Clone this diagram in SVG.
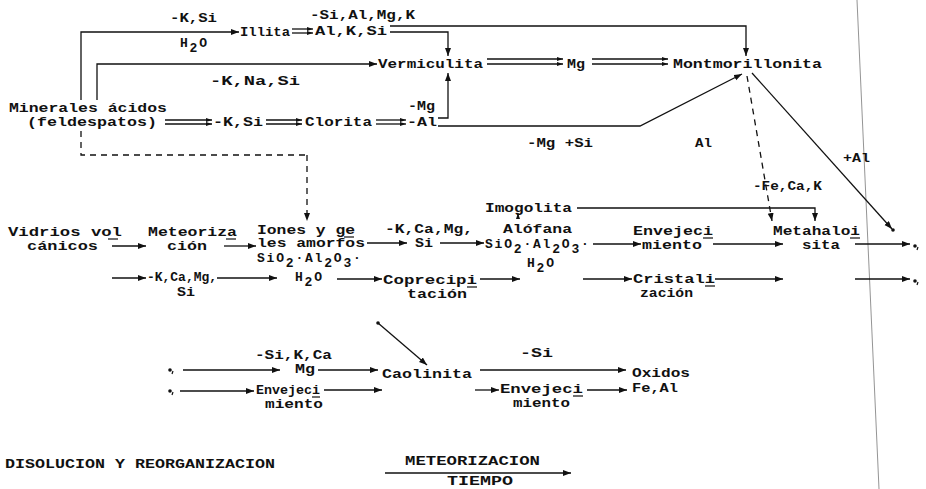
<svg xmlns="http://www.w3.org/2000/svg" width="926" height="489" viewBox="0 0 926 489">
<defs>
<marker id="a" markerUnits="userSpaceOnUse" markerWidth="9" markerHeight="7" refX="8" refY="3" orient="auto"><path d="M0,0 L8,3 L0,6 z" fill="#111"/></marker>
<marker id="s" markerUnits="userSpaceOnUse" markerWidth="7" markerHeight="5" refX="6" refY="2" orient="auto"><path d="M0,0 L6,2 L0,4 z" fill="#111"/></marker>
<style>
text{font-family:"Liberation Mono","DejaVu Sans Mono",monospace;font-size:13px;font-weight:bold;fill:#111}
.t{letter-spacing:1.8px}
.c line,.c path,.c polyline{stroke:#111;stroke-width:1.3;fill:none}
.c .ar{marker-end:url(#a)}
.c .d2{marker-end:url(#s)}
.c .ds{stroke-dasharray:6 5}
.u{stroke:#111;stroke-width:1.2}
.dot{fill:#111}
</style>
</defs>
<rect width="926" height="489" fill="#fff"/>
<line x1="857" y1="0" x2="879" y2="489" stroke="#888" stroke-width="0.9"/>

<g class="c" id="connectors">
<polyline class="ar" points="81,100 81,32 239,32"/>
<polyline class="ar" points="97,100 97,64 377,64"/>
<line class="d2" x1="292" y1="29" x2="313" y2="29"/>
<line class="d2" x1="292" y1="33" x2="313" y2="33"/>
<polyline class="ar" points="390,26 746,26 746,56"/>
<polyline class="ar" points="390,32 448,32 448,56"/>
<line class="d2" x1="487" y1="59" x2="563" y2="59"/>
<line class="d2" x1="487" y1="64" x2="563" y2="64"/>
<line class="d2" x1="592" y1="59" x2="668" y2="59"/>
<line class="d2" x1="592" y1="64" x2="668" y2="64"/>
<line class="d2" x1="165" y1="120" x2="212" y2="120"/>
<line class="d2" x1="165" y1="124" x2="212" y2="124"/>
<line class="d2" x1="266" y1="120" x2="302" y2="120"/>
<line class="d2" x1="266" y1="124" x2="302" y2="124"/>
<line class="d2" x1="376" y1="120" x2="406" y2="120"/>
<line class="d2" x1="376" y1="124" x2="406" y2="124"/>
<polyline class="ar" points="438,118 448,118 448,73"/>
<polyline class="ar" points="438,126 640,126 742,74"/>
<polyline class="ds" points="81,131 81,155 307,155"/>
<line class="ds ar" x1="307" y1="155" x2="307" y2="221"/>
<line class="ds ar" x1="747" y1="76" x2="772" y2="221"/>
<line class="ar" x1="752" y1="73" x2="892" y2="229"/>
<line class="ar" x1="112" y1="246" x2="146" y2="246"/>
<line class="ar" x1="224" y1="246" x2="256" y2="246"/>
<line class="ar" x1="112" y1="278" x2="146" y2="278"/>
<line class="ar" x1="217" y1="278" x2="277" y2="278"/>
<line class="ar" x1="367" y1="243" x2="407" y2="243"/>
<line class="ar" x1="440" y1="243" x2="484" y2="243"/>
<line class="d2" x1="518" y1="219" x2="518" y2="213"/>
<polyline class="ar" points="577,208 815,208 815,221"/>
<line class="ar" x1="593" y1="244" x2="641" y2="244"/>
<line class="ar" x1="713" y1="244" x2="783" y2="244"/>
<line class="ar" x1="855" y1="244" x2="910" y2="244"/>
<line class="ar" x1="337" y1="279" x2="382" y2="279"/>
<line class="ar" x1="480" y1="279" x2="520" y2="279"/>
<line class="ar" x1="583" y1="279" x2="632" y2="279"/>
<line class="ar" x1="715" y1="279" x2="783" y2="279"/>
<line class="ar" x1="855" y1="279" x2="910" y2="279"/>
<line class="ar" x1="378" y1="323" x2="427" y2="365"/>
<line class="ar" x1="183" y1="370" x2="280" y2="370"/>
<line class="ar" x1="318" y1="370" x2="378" y2="370"/>
<line class="ar" x1="480" y1="370" x2="626" y2="370"/>
<line class="ar" x1="180" y1="391" x2="254" y2="391"/>
<line class="ar" x1="324" y1="390" x2="382" y2="390"/>
<line class="ar" x1="475" y1="390" x2="499" y2="390"/>
<line class="ar" x1="587" y1="390" x2="627" y2="390"/>
<line class="ar" x1="385" y1="473" x2="571" y2="473"/>
</g>

<g id="markers">
<circle class="dot" cx="170" cy="370" r="1.8"/><path d="M173,371 l-1,3" class="u"/>
<circle class="dot" cx="170" cy="391" r="1.8"/><path d="M173,392 l-1,3" class="u"/>
<circle class="dot" cx="378" cy="323" r="1.8"/>
<circle class="dot" cx="893" cy="230" r="1.8"/>
<circle class="dot" cx="915" cy="246" r="1.8"/><path d="M918,247 l-1,3" class="u"/>
<circle class="dot" cx="915" cy="281" r="1.8"/><path d="M918,282 l-1,3" class="u"/>
</g>

<g id="labels">
<text x="170" y="22" textLength="47" lengthAdjust="spacingAndGlyphs">-K,Si</text>
<text x="310" y="19" textLength="105" lengthAdjust="spacingAndGlyphs">-Si,Al,Mg,K</text>
<text class="t" x="180" y="47">H<tspan dy="5">2</tspan><tspan dy="-5">O</tspan></text>
<text x="210" y="85" textLength="90" lengthAdjust="spacingAndGlyphs">-K,Na,Si</text>
<text x="213" y="126" textLength="50" lengthAdjust="spacingAndGlyphs">-K,Si</text>
<text x="408" y="110" textLength="27" lengthAdjust="spacingAndGlyphs">-Mg</text>
<text x="407" y="126" textLength="30" lengthAdjust="spacingAndGlyphs">-Al</text>
<text x="527" y="147" textLength="66" lengthAdjust="spacingAndGlyphs">-Mg +Si</text>
<text x="695" y="147" textLength="17" lengthAdjust="spacingAndGlyphs">Al</text>
<text x="843" y="162" textLength="27" lengthAdjust="spacingAndGlyphs">+Al</text>
<text x="753" y="190" textLength="69" lengthAdjust="spacingAndGlyphs">-Fe,Ca,K</text>
<text x="385" y="233" textLength="88" lengthAdjust="spacingAndGlyphs">-K,Ca,Mg,</text>
<text x="415" y="247" textLength="18" lengthAdjust="spacingAndGlyphs">Si</text>
<text x="147" y="281" textLength="70" lengthAdjust="spacingAndGlyphs">-K,Ca,Mg,</text>
<text x="177" y="296" textLength="18" lengthAdjust="spacingAndGlyphs">Si</text>
<text class="t" x="295" y="281">H<tspan dy="5">2</tspan><tspan dy="-5">O</tspan></text>
<text class="t" x="527" y="267">H<tspan dy="5">2</tspan><tspan dy="-5">O</tspan></text>
<text x="255" y="359" textLength="77" lengthAdjust="spacingAndGlyphs">-Si,K,Ca</text>
<text x="295" y="373" textLength="20" lengthAdjust="spacingAndGlyphs">Mg</text>
<text x="520" y="357" textLength="33" lengthAdjust="spacingAndGlyphs">-Si</text>
</g>

<g id="minerales"><text x="9" y="112" textLength="158" lengthAdjust="spacingAndGlyphs">Minerales ácidos</text><text x="27" y="126" textLength="130" lengthAdjust="spacingAndGlyphs">(feldespatos)</text></g>
<g id="illita"><text x="240" y="36" textLength="50" lengthAdjust="spacingAndGlyphs">Illita</text></g>
<g id="alksi"><text x="315" y="35" textLength="72" lengthAdjust="spacingAndGlyphs">Al,K,Si</text></g>
<g id="vermiculita"><text x="378" y="68" textLength="105" lengthAdjust="spacingAndGlyphs">Vermiculita</text></g>
<g id="mg"><text x="567" y="68" textLength="18" lengthAdjust="spacingAndGlyphs">Mg</text></g>
<g id="montmorillonita"><text x="673" y="68" textLength="149" lengthAdjust="spacingAndGlyphs">Montmorillonita</text></g>
<g id="clorita"><text x="305" y="126" textLength="67" lengthAdjust="spacingAndGlyphs">Clorita</text></g>
<g id="vidrios"><text x="8" y="236" textLength="114" lengthAdjust="spacingAndGlyphs">Vidrios vol</text><text x="27" y="250" textLength="71" lengthAdjust="spacingAndGlyphs">cánicos</text><line class="u" x1="108" y1="239" x2="118" y2="239"/></g>
<g id="meteorizacion"><text x="148" y="236" textLength="89" lengthAdjust="spacingAndGlyphs">Meteoriza</text><text x="167" y="250" textLength="40" lengthAdjust="spacingAndGlyphs">ción</text><line class="u" x1="226" y1="239" x2="236" y2="239"/></g>
<g id="iones"><text x="257" y="234" textLength="98" lengthAdjust="spacingAndGlyphs">Iones y ge</text><text x="257" y="247" textLength="108" lengthAdjust="spacingAndGlyphs">les amorfos</text><text class="t" x="257" y="262">SiO<tspan dy="5">2</tspan><tspan dy="-5">·Al</tspan><tspan dy="5">2</tspan><tspan dy="-5">O</tspan><tspan dy="5">3</tspan><tspan dy="-5">·</tspan></text><line class="u" x1="344" y1="237" x2="354" y2="237"/></g>
<g id="imogolita"><text x="485" y="212" textLength="87" lengthAdjust="spacingAndGlyphs">Imogolita</text></g>
<g id="alofana"><text x="503" y="233" textLength="69" lengthAdjust="spacingAndGlyphs">Alófana</text><text class="t" x="485" y="248">SiO<tspan dy="5">2</tspan><tspan dy="-5">·Al</tspan><tspan dy="5">2</tspan><tspan dy="-5">O</tspan><tspan dy="5">3</tspan><tspan dy="-5">·</tspan></text></g>
<g id="envejecimiento1"><text x="633" y="235" textLength="80" lengthAdjust="spacingAndGlyphs">Envejeci</text><text x="642" y="249" textLength="60" lengthAdjust="spacingAndGlyphs">miento</text><line class="u" x1="703" y1="238" x2="713" y2="238"/></g>
<g id="metahaloisita"><text x="773" y="235" textLength="87" lengthAdjust="spacingAndGlyphs">Metahaloi</text><text x="802" y="249" textLength="38" lengthAdjust="spacingAndGlyphs">sita</text><line class="u" x1="850" y1="238" x2="860" y2="238"/></g>
<g id="coprecipitacion"><text x="383" y="284" textLength="94" lengthAdjust="spacingAndGlyphs">Coprecipi</text><text x="407" y="298" textLength="60" lengthAdjust="spacingAndGlyphs">tación</text><line class="u" x1="467" y1="287" x2="477" y2="287"/></g>
<g id="cristalizacion"><text x="633" y="283" textLength="82" lengthAdjust="spacingAndGlyphs">Cristali</text><text x="640" y="297" textLength="53" lengthAdjust="spacingAndGlyphs">zación</text><line class="u" x1="705" y1="286" x2="715" y2="286"/></g>
<g id="envejecimiento2"><text x="256" y="394" textLength="64" lengthAdjust="spacingAndGlyphs">Envejeci</text><text x="265" y="408" textLength="58" lengthAdjust="spacingAndGlyphs">miento</text><line class="u" x1="312" y1="397" x2="320" y2="397"/></g>
<g id="caolinita"><text x="382" y="378" textLength="90" lengthAdjust="spacingAndGlyphs">Caolinita</text></g>
<g id="envejecimiento3"><text x="500" y="393" textLength="83" lengthAdjust="spacingAndGlyphs">Envejeci</text><text x="513" y="407" textLength="57" lengthAdjust="spacingAndGlyphs">miento</text><line class="u" x1="573" y1="396" x2="583" y2="396"/></g>
<g id="oxidos"><text x="632" y="377" textLength="58" lengthAdjust="spacingAndGlyphs">Oxidos</text><text x="632" y="392" textLength="46" lengthAdjust="spacingAndGlyphs">Fe,Al</text></g>
<g id="leyenda"><text x="5" y="468" textLength="270" lengthAdjust="spacingAndGlyphs">DISOLUCION Y REORGANIZACION</text><text x="405" y="465" textLength="135" lengthAdjust="spacingAndGlyphs">METEORIZACION</text><text x="447" y="485" textLength="66" lengthAdjust="spacingAndGlyphs">TIEMPO</text></g>
</svg>
